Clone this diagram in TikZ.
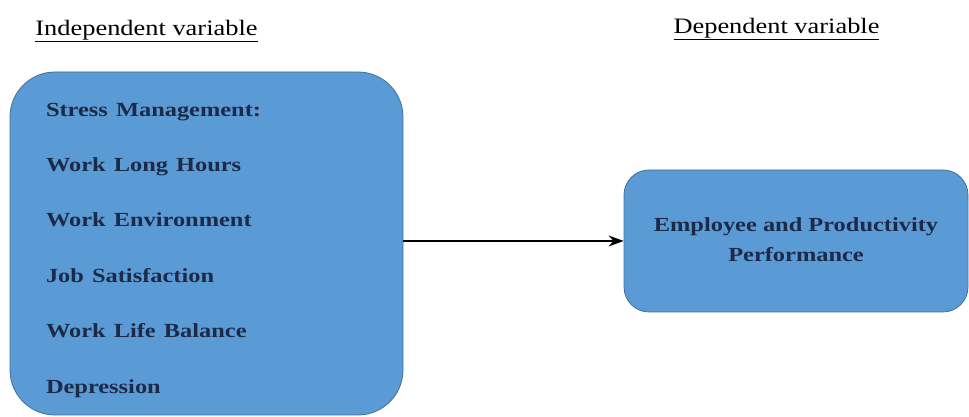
\documentclass[tikz,border=0pt]{standalone}
\usepackage{fontspec}
\setmainfont{Liberation Serif}
\usetikzlibrary{positioning,arrows.meta}

\definecolor{boxblue}{HTML}{5B9BD5}
\definecolor{boxedge}{HTML}{41719C}
\definecolor{boxtext}{HTML}{1C2A48}

% stretched text, as in the source
\newcommand{\widetext}[2][1.22]{\scalebox{#1}[1]{#2}}

\tikzset{
  varbox/.style = {draw=boxedge, fill=boxblue, line width=0.8pt, text=boxtext,
    font=\fontsize{20}{55.4}\selectfont\bfseries},
  heading/.style = {font=\fontsize{22}{26}\selectfont}
}

\begin{document}
\begin{tikzpicture}[x=1pt, y=1pt]
  \useasboundingbox (0,0) rectangle (969,417);
  \node[heading] (indep) at (146.5,386) {\widetext[1.2]{\underline{Independent variable}}};
  \node[heading] (dep) at (776.5,388) {\widetext[1.2]{\underline{Dependent variable}}};

  \node[varbox, rounded corners=45pt, minimum width=393pt, minimum height=343pt,
    align=left, text width=321pt] (factors) at (206.5,173.5)
  {\raisebox{-9pt}{\widetext{\begin{tabular}{@{}l@{}}
     Stress Management:\\ Work Long Hours\\ Work Environment\\
     Job Satisfaction\\ Work Life Balance\\ Depression
   \end{tabular}}}};

  \node[varbox, rounded corners=25pt, minimum width=344pt, minimum height=142pt,
    align=center, font=\fontsize{20}{30}\selectfont\bfseries] (outcome) at (796,176)
  {\widetext{\begin{tabular}{@{}c@{}}Employee and Productivity\\ Performance\end{tabular}}};

  \path[-{Stealth[length=15pt,width=11pt]}, line width=1.3pt]
    (factors.east |- outcome) edge (outcome);
\end{tikzpicture}
\end{document}
